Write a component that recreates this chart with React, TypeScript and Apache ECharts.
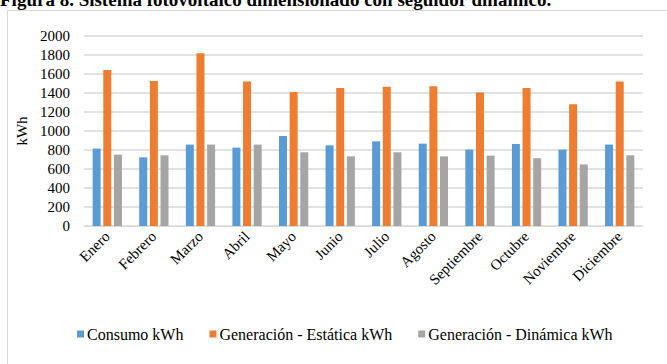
import React, { useEffect, useRef } from "react";
import * as echarts from "echarts";

const months = ["Enero", "Febrero", "Marzo", "Abril", "Mayo", "Junio", "Julio", "Agosto", "Septiembre", "Octubre", "Noviembre", "Diciembre"];
const consumo = [815, 723, 857, 825, 947, 849, 891, 867, 804, 863, 804, 857];
const estatica = [1642, 1526, 1818, 1520, 1411, 1453, 1467, 1471, 1404, 1453, 1281, 1520];
const dinamica = [751, 744, 857, 857, 776, 733, 776, 733, 741, 713, 649, 744];
const seriesNames = ["Consumo kWh", "Generación - Estática kWh", "Generación - Dinámica kWh"];
const colors = ["#5B9BD5", "#ED7D31", "#A5A5A5"];
const titleText = "Figura 8. Sistema fotovoltaico dimensionado con seguidor dinámico.";

const FONT = "Liberation Serif";

export default function App() {
  const ref = useRef<HTMLDivElement>(null);
  useEffect(() => {
    if (!ref.current) return;
    const chart = echarts.init(ref.current, undefined, { renderer: "svg" });
    const values = [consumo, estatica, dinamica];
    chart.setOption({
      animation: false,
      backgroundColor: "#ffffff",
      textStyle: { fontFamily: FONT, color: "#000" },
      graphic: [
        {
          type: "rect",
          shape: { x: 7.5, y: 10.5, width: 700, height: 400 },
          style: { fill: "none", stroke: "#d9d9d9", lineWidth: 1 },
          z: 0,
        },
        {
          type: "text",
          x: 0,
          y: 9,
          style: {
            text: titleText,
            fontFamily: FONT,
            fontWeight: "bold",
            fontSize: 19,
            fill: "#000",
            verticalAlign: "bottom",
            align: "left",
          },
        },
      ],
      legend: {
        left: 72,
        top: 321,
        itemWidth: 7,
        itemHeight: 7,
        itemGap: 26,
        icon: "rect",
        textStyle: { fontFamily: FONT, fontSize: 16, color: "#000", padding: [0, 0, 0, -2] },
        data: seriesNames,
      },
      grid: { left: 84, right: 24, top: 36, bottom: 138, containLabel: false },
      xAxis: {
        type: "category",
        data: months,
        axisLine: { show: true, lineStyle: { color: "#d9d9d9", width: 1 } },
        axisTick: { show: false },
        axisLabel: { rotate: 45, fontFamily: FONT, fontSize: 15, color: "#000", margin: 8, interval: 0 },
      },
      yAxis: {
        type: "value",
        min: 0,
        max: 2000,
        interval: 200,
        name: "kWh",
        nameLocation: "middle",
        nameGap: 54,
        nameTextStyle: { fontFamily: FONT, fontSize: 15, color: "#000" },
        axisLine: { show: false },
        axisTick: { show: false },
        axisLabel: { fontFamily: FONT, fontSize: 15, color: "#000", margin: 14, formatter: (v: number) => String(v) },
        splitLine: { lineStyle: { color: "#d9d9d9", width: 1.5 } },
      },
      series: seriesNames.map((name, i) => ({
        name,
        type: "bar",
        data: values[i],
        barWidth: 8,
        barGap: "33%",
        itemStyle: { color: colors[i] },
      })),
    });
    return () => chart.dispose();
  }, []);
  return <div ref={ref} style={{ position: "absolute", left: 0, top: 0, width: 667, height: 364 }} />;
}
